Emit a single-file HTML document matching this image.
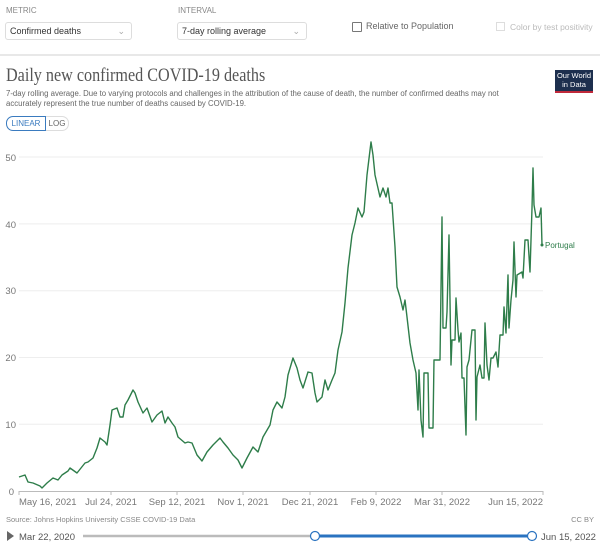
<!DOCTYPE html><html><head><meta charset="utf-8"><style>
body{margin:0;width:600px;height:542px;background:#fff;font-family:"Liberation Sans",sans-serif;position:relative;overflow:hidden;color:#555}
.a{position:absolute;white-space:nowrap}
.sel{position:absolute;border:1px solid #ddd;border-radius:3px;font-size:9px;color:#333;line-height:17px;padding-left:4px;box-sizing:border-box;height:18px}
.lbl{font-size:8px;color:#888}
</style></head><body>
<div class="a lbl" style="left:6px;top:6px">METRIC</div>
<div class="a lbl" style="left:178px;top:6px">INTERVAL</div>
<div class="sel" style="left:5px;top:22px;width:127px">Confirmed deaths<span style="position:absolute;right:6px;color:#aaa">⌄</span></div>
<div class="sel" style="left:177px;top:22px;width:130px">7-day rolling average<span style="position:absolute;right:6px;color:#aaa">⌄</span></div>
<div class="a" style="left:352px;top:22px;width:8px;height:8px;border:1px solid #777;border-radius:1px"></div>
<div class="a" style="left:366px;top:21px;font-size:9px;color:#666">Relative to Population</div>
<div class="a" style="left:496px;top:22px;width:7px;height:7px;border:1px solid #ddd"></div>
<div class="a" style="left:510px;top:22px;font-size:8.5px;color:#bbb">Color by test positivity</div>
<div class="a" style="left:0;top:54px;width:600px;height:2px;background:#e8e8e8"></div>
<div class="a" style="left:6px;top:65px;font-family:'Liberation Serif',serif;font-size:19px;color:#555;transform:scaleX(0.85);transform-origin:0 0">Daily new confirmed COVID-19 deaths</div>
<div class="a" style="left:6px;top:89px;font-size:7.8px;color:#666;line-height:10px">7-day rolling average. Due to varying protocols and challenges in the attribution of the cause of death, the number of confirmed deaths may not<br>accurately represent the true number of deaths caused by COVID-19.</div>
<div class="a" style="left:6px;top:116px;width:38px;height:13px;border:1px solid #3a7bbf;border-radius:7px 0 0 7px;font-size:8px;color:#3a7bbf;text-align:center;line-height:13px;box-sizing:content-box">LINEAR</div>
<div class="a" style="left:46px;top:116px;width:22px;height:13px;border:1px solid #ddd;border-left:none;border-radius:0 7px 7px 0;font-size:8px;color:#666;text-align:center;line-height:13px">LOG</div>
<div class="a" style="left:555px;top:70px;width:38px;height:20px;background:#1d2f4e;color:#fff;font-size:7.5px;text-align:center;line-height:9px;padding-top:1px;border-bottom:2px solid #c0293b">Our World<br>in Data</div>
<svg class="a" style="left:0;top:0" width="600" height="542">
<g stroke="#eee" stroke-width="1">
<line x1="19" x2="543" y1="424.3" y2="424.3"/><line x1="19" x2="543" y1="357.5" y2="357.5"/><line x1="19" x2="543" y1="290.7" y2="290.7"/><line x1="19" x2="543" y1="223.9" y2="223.9"/><line x1="19" x2="543" y1="157" y2="157"/>
</g>
<line x1="19" x2="543" y1="491.5" y2="491.5" stroke="#bbb"/>
<g stroke="#bbb"><line x1="19" x2="19" y1="491" y2="495"/><line x1="111" x2="111" y1="491" y2="495"/><line x1="177" x2="177" y1="491" y2="495"/><line x1="243" x2="243" y1="491" y2="495"/><line x1="310" x2="310" y1="491" y2="495"/><line x1="376" x2="376" y1="491" y2="495"/><line x1="442" x2="442" y1="491" y2="495"/><line x1="543" x2="543" y1="491" y2="495"/></g>
<g font-size="9.5" fill="#777" font-family="Liberation Sans,sans-serif">
<text x="14" y="495" text-anchor="end">0</text><text x="16" y="428" text-anchor="end">10</text><text x="16" y="361" text-anchor="end">20</text><text x="16" y="294" text-anchor="end">30</text><text x="16" y="228" text-anchor="end">40</text><text x="16" y="161" text-anchor="end">50</text>
<text x="19" y="505">May 16, 2021</text><text x="111" y="505" text-anchor="middle">Jul 24, 2021</text><text x="177" y="505" text-anchor="middle">Sep 12, 2021</text><text x="243" y="505" text-anchor="middle">Nov 1, 2021</text><text x="310" y="505" text-anchor="middle">Dec 21, 2021</text><text x="376" y="505" text-anchor="middle">Feb 9, 2022</text><text x="442" y="505" text-anchor="middle">Mar 31, 2022</text><text x="543" y="505" text-anchor="end">Jun 15, 2022</text>
</g>
<polyline fill="none" stroke="#2e7d4a" stroke-width="1.4" stroke-linejoin="round" points="19,477 25,475 28,482 33,483 40,486 42,488 47,483 53,478 58,480 62,475 68,471 70,468 77,473 85,463 88,462 93,458 97,448 100,438 105,442 107,445 110,425 112,410 117,408 120,417 123,417 125,405 128,400 133,390 135,393 138,402 143,413 147,408 152,422 157,415 162,411 165,423 168,417 172,423 175,427 178,437 185,443 188,442 192,443 197,455 202,461 207,452 213,445 220,438 223,442 228,448 233,455 238,460 242,468 247,458 253,447 258,452 263,437 270,425 273,410 277,402 282,408 285,397 288,375 293,358 297,368 300,380 303,388 308,372 312,373 315,393 317,402 322,397 325,380 328,390 332,380 335,373 338,350 342,332 345,303 348,268 352,235 355,223 358,208 362,217 364,212 367,175 371,142 373,155 375,175 380,197 383,188 386,197 388,188 390,203 392,203 395,247 397,287 400,297 403,310 405,300 407,317 410,343 413,360 416,373 418,410 419,370 421,420 423,437 424,373 428,373 429,428 433,428 434,360 440,360 442,217 443,328 446,328 447,312 449,235 451,365 452,340 455,340 456,298 458,330 459,342 461,333 462,378 464,378 466,435 467,367 469,360 472,330 475,330 476,420 477,377 480,365 482,378 484,378 485,323 487,365 489,380 491,358 493,358 496,352 498,367 500,335 503,335 504,307 506,333 508,275 509,328 511,300 513,280 514,242 516,297 517,275 522,272 523,278 525,240 528,240 530,272 532,208 533,168 534,205 536,217 539,217 541,208 542,245"/>
<circle cx="542" cy="245" r="1.5" fill="#2e7d4a"/>
<text x="545" y="248" font-size="8" fill="#2e7d4a" font-family="Liberation Sans,sans-serif">Portugal</text>
<text x="6" y="522" font-size="7.5" fill="#888" font-family="Liberation Sans,sans-serif">Source: Johns Hopkins University CSSE COVID-19 Data</text>
<text x="594" y="522" font-size="7.5" fill="#888" text-anchor="end" font-family="Liberation Sans,sans-serif">CC BY</text>
<polygon points="7,531 7,541 14,536" fill="#666"/>
<text x="19" y="540" font-size="9.5" fill="#555" font-family="Liberation Sans,sans-serif">Mar 22, 2020</text>
<line x1="83" x2="315" y1="536" y2="536" stroke="#bbb" stroke-width="2.5"/>
<line x1="315" x2="532" y1="536" y2="536" stroke="#2a73c0" stroke-width="3"/>
<circle cx="315" cy="536" r="4.5" fill="#fff" stroke="#2a73c0" stroke-width="1.2"/>
<circle cx="532" cy="536" r="4.5" fill="#fff" stroke="#2a73c0" stroke-width="1.2"/>
<text x="541" y="540" font-size="9.5" fill="#555" font-family="Liberation Sans,sans-serif">Jun 15, 2022</text>
</svg>
</body></html>
